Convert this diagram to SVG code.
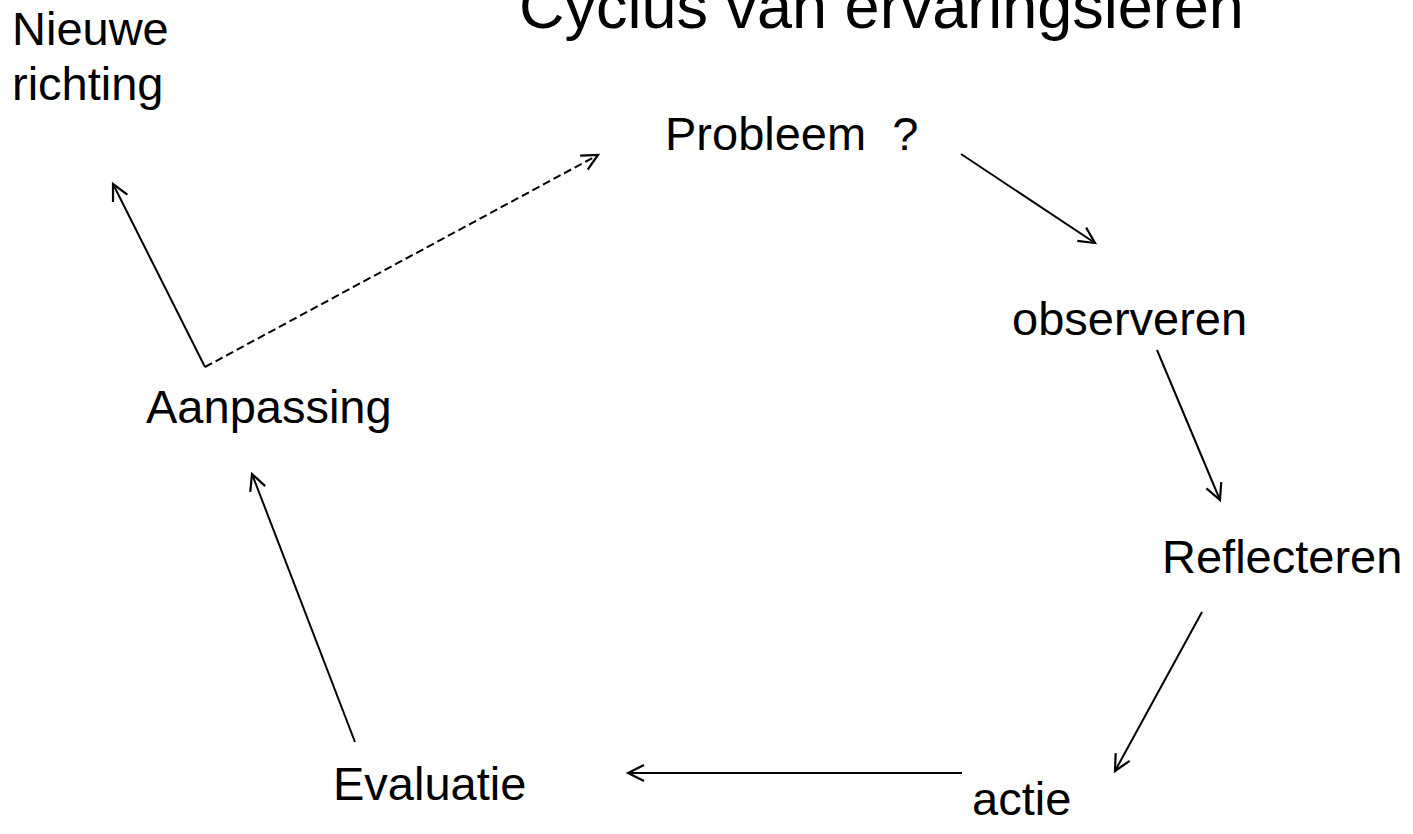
<svg xmlns="http://www.w3.org/2000/svg" width="1413" height="834" viewBox="0 0 1413 834">
<style>
text{font-family:"Liberation Sans",Arial,sans-serif;fill:#000;white-space:pre}
.lbl{font-size:47px}
.title{font-size:63px}
.c{stroke:#000;stroke-width:2;fill:none}
.d{stroke-dasharray:8 4}
</style>
<defs>
<marker id="ah" markerUnits="userSpaceOnUse" viewBox="-20 -12 24 24" refX="0" refY="0" markerWidth="24" markerHeight="24" orient="auto">
<path d="M-16,-8 L0,0 L-16,8" fill="none" stroke="#000" stroke-width="2.2"/>
</marker>
</defs>
<rect width="1413" height="834" fill="#fff"/>
<g id="title"><text class="title" x="519" y="28">Cyclus van ervaringsleren</text></g>
<g id="nieuwe"><text class="lbl" x="12" y="45">Nieuwe</text><text class="lbl" x="12" y="100">richting</text></g>
<g id="probleem"><text class="lbl" x="665" y="150" xml:space="preserve">Probleem  ?</text></g>
<g id="observeren"><text class="lbl" x="1012" y="335">observeren</text></g>
<g id="reflecteren"><text class="lbl" x="1162" y="573">Reflecteren</text></g>
<g id="actie"><text class="lbl" x="972" y="815">actie</text></g>
<g id="evaluatie"><text class="lbl" x="333" y="800">Evaluatie</text></g>
<g id="aanpassing"><text class="lbl" x="146" y="423">Aanpassing</text></g>
<g id="connectors">
<line class="c" x1="961" y1="154" x2="1095" y2="243" marker-end="url(#ah)"/>
<line class="c" x1="1157" y1="350" x2="1220" y2="500" marker-end="url(#ah)"/>
<line class="c" x1="1202" y1="612" x2="1115" y2="771" marker-end="url(#ah)"/>
<line class="c" x1="962" y1="773" x2="628" y2="773" marker-end="url(#ah)"/>
<line class="c" x1="355" y1="742" x2="252" y2="474" marker-end="url(#ah)"/>
<line class="c" x1="205" y1="367" x2="113" y2="184" marker-end="url(#ah)"/>
<line class="c d" x1="205" y1="367" x2="598" y2="155" marker-end="url(#ah)"/>
</g>
</svg>
